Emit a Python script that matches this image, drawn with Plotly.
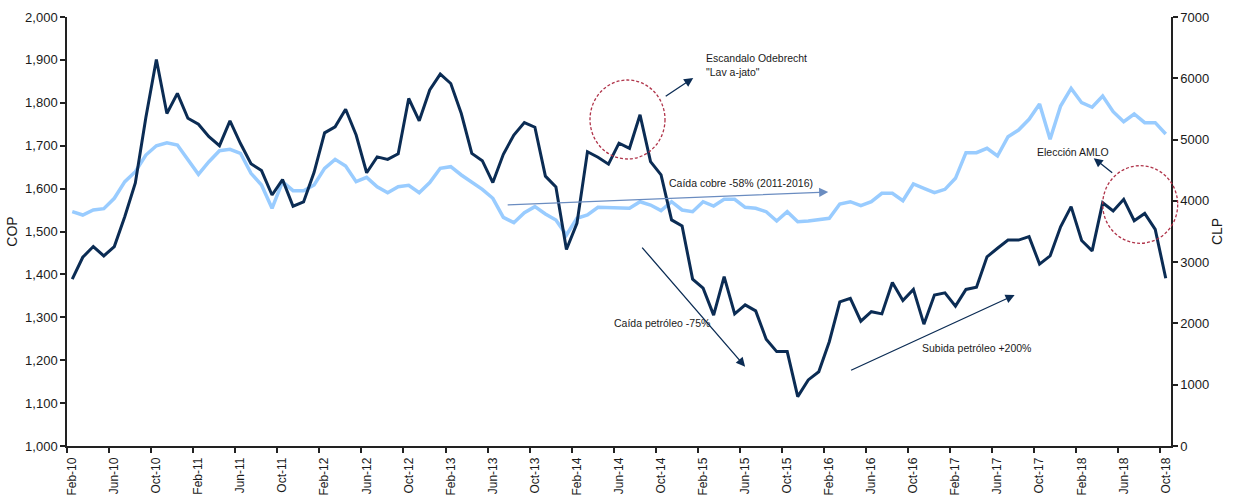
import plotly.graph_objects as go
import pandas as pd

# Monthly categories Feb-10 ... Oct-18
months = pd.date_range("2010-02-01", "2018-10-01", freq="MS").strftime("%b-%y").tolist()

# COP (left axis)
cop = [1389, 1440, 1465, 1443, 1465, 1535, 1613, 1766, 1901, 1775,
       1822, 1764, 1750, 1721, 1700, 1758, 1705, 1658, 1642, 1585,
       1621, 1559, 1569, 1638, 1730, 1744, 1785, 1725, 1637, 1674,
       1668, 1681, 1810, 1758, 1830, 1867, 1845, 1775, 1682, 1665,
       1614, 1680, 1725, 1754, 1743, 1629, 1604, 1458, 1519, 1686,
       1673, 1657, 1706, 1694, 1772, 1663, 1632, 1527, 1513, 1389,
       1368, 1305, 1395, 1308, 1329, 1315, 1249, 1220, 1220, 1115,
       1154, 1173, 1243, 1336, 1344, 1291, 1313, 1308, 1381, 1339,
       1365, 1284, 1352, 1357, 1326, 1365, 1370, 1441, 1461, 1480,
       1480, 1488, 1424, 1443, 1511, 1558, 1479, 1455, 1567, 1548,
       1575, 1525, 1542, 1505, 1391]

# CLP (right axis)
clp = [3823, 3769, 3851, 3872, 4042, 4313, 4476, 4748, 4900, 4949,
       4911, 4667, 4433, 4639, 4818, 4841, 4776, 4449, 4259, 3878,
       4313, 4166, 4166, 4259, 4531, 4678, 4569, 4313, 4384, 4231,
       4133, 4231, 4253, 4133, 4300, 4531, 4558, 4422, 4297, 4188,
       4042, 3731, 3644, 3807, 3905, 3786, 3688, 3443, 3715, 3769,
       3895, 3890, 3872, 3878, 3986, 3932, 3840, 3986, 3851, 3823,
       3986, 3916, 4025, 4025, 3895, 3878, 3823, 3671, 3823, 3660,
       3671, 3688, 3715, 3949, 3986, 3921, 3986, 4123, 4123, 4003,
       4275, 4205, 4133, 4188, 4368, 4786, 4786, 4857, 4732, 5047,
       5156, 5331, 5580, 5004, 5548, 5836, 5602, 5527, 5711, 5455,
       5292, 5417, 5276, 5276, 5091]

FONT = "Liberation Sans, Arial, sans-serif"
DARK = "#0B2C54"
LIGHT = "#99CCFF"
TXT = "#1a1a1a"
AX = "#222222"

fig = go.Figure()
fig.add_trace(go.Scatter(x=months, y=clp, yaxis="y", mode="lines",
                         line=dict(color=LIGHT, width=3.5), name="CLP"))
fig.add_trace(go.Scatter(x=months, y=cop, yaxis="y2", mode="lines",
                         line=dict(color=DARK, width=3), name="COP"))

fig.update_layout(
    width=1233, height=500,
    margin=dict(l=67, r=62, t=17, b=54),
    paper_bgcolor="white", plot_bgcolor="white",
    showlegend=False,
    font=dict(family=FONT, size=13, color=TXT),
    xaxis=dict(type="category", tickmode="linear", tick0=0, dtick=4,
               tickson="boundaries", ticks="outside", ticklen=5, tickwidth=1.5,
               tickcolor=AX, tickangle=-90, showline=True, linecolor=AX,
               linewidth=1.5, showgrid=False, zeroline=False, automargin=False,
               ticklabelstandoff=5,
               range=[-0.5, len(months) - 0.5], tickfont=dict(size=12)),
    yaxis=dict(side="right", range=[0, 7000], dtick=1000, tickformat="d",
               ticks="outside", ticklen=5, tickwidth=1.5, tickcolor=AX,
               showline=True, linecolor=AX, linewidth=1.5, showgrid=False,
               zeroline=False, automargin=False,
               title=dict(text="CLP", font=dict(size=14), standoff=4)),
    yaxis2=dict(side="left", overlaying="y", range=[1000, 2000], dtick=100,
                tickformat=",d", ticks="outside", ticklen=5, tickwidth=1.5,
                tickcolor=AX, showline=True, linecolor=AX, linewidth=1.5,
                showgrid=False, zeroline=False, automargin=False,
                title=dict(text="COP", font=dict(size=14), standoff=4)),
)

# Text annotations (x in month index, y in COP units)
texts = [
    ("Escandalo Odebrecht<br>\"Lav a-jato\"", 60.1, 1887, "left"),
    ("Caída cobre -58% (2011-2016)", 63.6, 1613, "center"),
    ("Caída petróleo -75%", 56.1, 1287, "center"),
    ("Subida petróleo +200%", 86.0, 1228, "center"),
    ("Elección AMLO", 95.2, 1686, "center"),
]
for t, x, y, xa in texts:
    fig.add_annotation(x=x, y=y, xref="x", yref="y2", text=t, showarrow=False,
                       xanchor=xa, align="left", font=dict(size=10.5, color=TXT))

# Arrows: (head x, head y, tail x, tail y, color)
arrows = [
    (59.06, 1858, 56.3, 1813, DARK),
    (71.9, 1592, 41.27, 1562, "#6A8CC0"),
    (64.0, 1185, 54.08, 1466, DARK),
    (89.63, 1352, 73.93, 1175, DARK),
    (97.15, 1671, 99.05, 1634, DARK),
]
for hx, hy, tx, ty, c in arrows:
    fig.add_annotation(x=hx, y=hy, xref="x", yref="y2", ax=tx, ay=ty,
                       axref="x", ayref="y2", text="", showarrow=True,
                       arrowhead=2, arrowsize=1.4, arrowwidth=1.3,
                       arrowcolor=c, standoff=0)

# Dashed circles
CIRC = "#B0344A"
fig.add_shape(type="circle", xref="paper", yref="paper",
              x0=(590 - 67) / 1104, x1=(665 - 67) / 1104,
              y0=(446 - 159) / 429, y1=(446 - 80) / 429,
              line=dict(color=CIRC, width=1.3, dash="3px,2px"))
fig.add_shape(type="circle", xref="paper", yref="paper",
              x0=(1102.7 - 67) / 1104, x1=(1177.7 - 67) / 1104,
              y0=(446 - 243.3) / 429, y1=(446 - 165.7) / 429,
              line=dict(color=CIRC, width=1.3, dash="3px,2px"))

fig.write_html("out.html", config={"displayModeBar": False},
               post_script="document.body.style.margin='0';document.body.style.overflow='hidden';")
